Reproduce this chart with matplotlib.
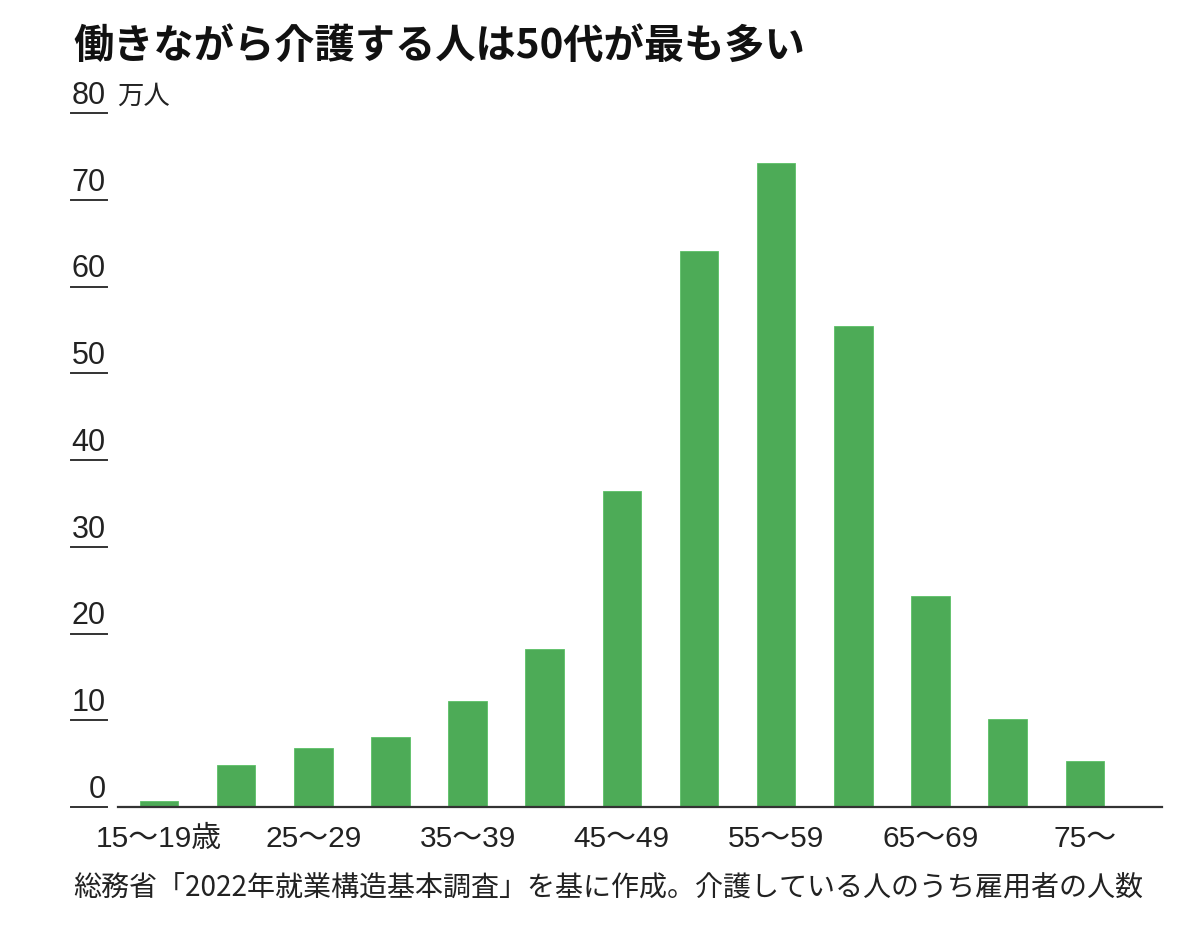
import matplotlib
matplotlib.use("Agg")
import matplotlib.pyplot as plt
from matplotlib import font_manager
import numpy as np

# employees who provide care, by age group (10k people)
ages = ["15～19", "20～24", "25～29", "30～34", "35～39", "40～44", "45～49",
        "50～54", "55～59", "60～64", "65～69", "70～74", "75～"]
tick_labels = ["15～19歳", "", "25～29", "", "35～39", "", "45～49",
               "", "55～59", "", "65～69", "", "75～"]
values = [0.7, 4.8, 6.8, 8.1, 12.2, 18.2, 36.4, 64.1, 74.2, 55.5, 24.3, 10.2, 5.3]
yticks = [0, 10, 20, 30, 40, 50, 60, 70, 80]

installed = {f.name for f in font_manager.fontManager.ttflist}
narrow = "Liberation Sans Narrow" if "Liberation Sans Narrow" in installed else "Liberation Sans"
jp = "Noto Sans CJK JP"
plt.rcParams['font.family'] = [jp, 'DejaVu Sans']

W, H = 1200, 931
fig = plt.figure(figsize=(W / 100, H / 100), dpi=100)
fig.patch.set_facecolor("white")

# axes box in pixels: x 118..1162, y(0)=807, y(80)=113
ax = fig.add_axes([118 / W, 1 - 807 / H, (1162 - 118) / W, (807 - 113) / H])
x = np.arange(len(ages))
ax.bar(x, values, width=0.5, color="#4dab57", edgecolor="#5cc066", linewidth=0.6)
ax.set_xlim(-0.53, 13.0)
ax.set_ylim(0, 80)

for s in ["left", "right", "top"]:
    ax.spines[s].set_visible(False)
ax.spines["bottom"].set_color("#333333")
ax.spines["bottom"].set_linewidth(1.6)
ax.set_yticks([])
ax.set_xticks(x)
ax.set_xticklabels(tick_labels, family=[narrow, jp], fontsize=21.5, color="#222222")
ax.tick_params(axis="x", length=0, pad=13)

# y ticks: short underline with number above it
trans = ax.get_yaxis_transform()
x0 = (71 - 118) / (1162 - 118)
x1 = (107 - 118) / (1162 - 118)
for t in yticks:
    ax.plot([x0, x1], [t, t], transform=trans, color="#333333", lw=1.4, clip_on=False)
    ax.annotate(str(t), xy=(x1, t), xycoords=trans, xytext=(-1, 1.5),
                textcoords="offset points", ha="right", va="bottom",
                family=[narrow, jp], fontsize=22, color="#222222")
ax.annotate("万人", xy=(x1, 80), xycoords=trans, xytext=(7, 2),
            textcoords="offset points", ha="left", va="bottom",
            fontsize=19, color="#222222")

fig.text(73 / W, 1 - 46 / H, "働きながら介護する人は50代が最も多い",
         fontsize=29, fontweight="bold", color="#111111", va="center", ha="left")
fig.text(73 / W, 1 - 889 / H,
         "総務省「2022年就業構造基本調査」を基に作成。介護している人のうち雇用者の人数",
         fontsize=20.2, color="#222222", va="center", ha="left")

fig.savefig("out.png", dpi=100, facecolor="white")
